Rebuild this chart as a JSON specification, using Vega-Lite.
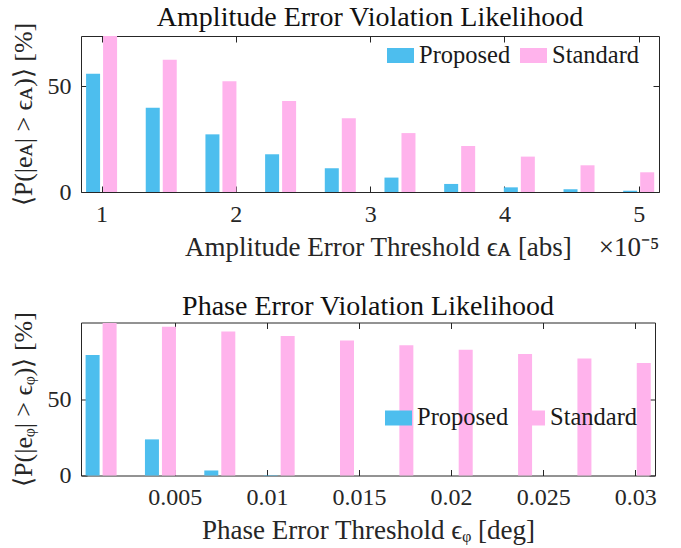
{
  "$schema": "https://vega.github.io/schema/vega-lite/v6.json",
  "background": "white",
  "padding": {"left": 9, "top": 3, "right": 5, "bottom": 2},
  "datasets": {
    "amp": [
      {"threshold": 1.0e-5, "series": "Proposed", "value": 55.8},
      {"threshold": 1.4444e-5, "series": "Proposed", "value": 39.8},
      {"threshold": 1.8889e-5, "series": "Proposed", "value": 27.2},
      {"threshold": 2.3333e-5, "series": "Proposed", "value": 17.8},
      {"threshold": 2.7778e-5, "series": "Proposed", "value": 11.2},
      {"threshold": 3.2222e-5, "series": "Proposed", "value": 6.8},
      {"threshold": 3.6667e-5, "series": "Proposed", "value": 3.8},
      {"threshold": 4.1111e-5, "series": "Proposed", "value": 2.2},
      {"threshold": 4.5556e-5, "series": "Proposed", "value": 1.3},
      {"threshold": 5.0e-5, "series": "Proposed", "value": 0.6},
      {"threshold": 1.0e-5, "series": "Standard", "value": 73.6},
      {"threshold": 1.4444e-5, "series": "Standard", "value": 62.4},
      {"threshold": 1.8889e-5, "series": "Standard", "value": 52.2},
      {"threshold": 2.3333e-5, "series": "Standard", "value": 42.9},
      {"threshold": 2.7778e-5, "series": "Standard", "value": 34.8},
      {"threshold": 3.2222e-5, "series": "Standard", "value": 27.8},
      {"threshold": 3.6667e-5, "series": "Standard", "value": 21.7},
      {"threshold": 4.1111e-5, "series": "Standard", "value": 16.7},
      {"threshold": 4.5556e-5, "series": "Standard", "value": 12.6},
      {"threshold": 5.0e-5, "series": "Standard", "value": 9.3}
    ],
    "phase": [
      {"threshold": 0.001, "series": "Proposed", "value": 79.1},
      {"threshold": 0.004222, "series": "Proposed", "value": 23.7},
      {"threshold": 0.007444, "series": "Proposed", "value": 3.3},
      {"threshold": 0.010667, "series": "Proposed", "value": 0.3},
      {"threshold": 0.013889, "series": "Proposed", "value": 0},
      {"threshold": 0.017111, "series": "Proposed", "value": 0},
      {"threshold": 0.020333, "series": "Proposed", "value": 0},
      {"threshold": 0.023556, "series": "Proposed", "value": 0},
      {"threshold": 0.026778, "series": "Proposed", "value": 0},
      {"threshold": 0.03, "series": "Proposed", "value": 0},
      {"threshold": 0.001, "series": "Standard", "value": 100},
      {"threshold": 0.004222, "series": "Standard", "value": 97.6},
      {"threshold": 0.007444, "series": "Standard", "value": 94.5},
      {"threshold": 0.010667, "series": "Standard", "value": 91.6},
      {"threshold": 0.013889, "series": "Standard", "value": 88.6},
      {"threshold": 0.017111, "series": "Standard", "value": 85.5},
      {"threshold": 0.020333, "series": "Standard", "value": 82.6},
      {"threshold": 0.023556, "series": "Standard", "value": 79.8},
      {"threshold": 0.026778, "series": "Standard", "value": 76.7},
      {"threshold": 0.03, "series": "Standard", "value": 73.9}
    ]
  },
  "config": {
    "font": "Liberation Serif",
    "view": {"stroke": "#262626", "strokeWidth": 1},
    "axis": {
      "domain": false, "grid": false, "tickSize": -6, "tickColor": "#262626", "tickWidth": 1,
      "minExtent": 0, "maxExtent": 200,
      "labelFont": "Liberation Serif", "labelFontSize": 24, "labelColor": "#262626", "labelPadding": 16,
      "titleFont": "Liberation Serif", "titleFontSize": 26, "titleFontWeight": "normal", "titleColor": "#262626", "titlePadding": 11
    },
    "axisX": {"titlePadding": 8, "titleFontSize": 27},
    "legend": {
      "labelFont": "Liberation Serif", "labelFontSize": 24.5, "labelColor": "#1a1a1a",
      "labelOffset": 5, "columnPadding": 9, "padding": 0, "symbolStrokeWidth": 0, "symbolOpacity": 1
    },
    "title": {"font": "Liberation Serif", "fontSize": 28, "fontWeight": "normal", "color": "#111111", "offset": -9.5, "baseline": "alphabetic"},
    "concat": {"spacing": 31.5}
  },
  "resolve": {"scale": {"color": "independent"}, "legend": {"color": "independent"}},
  "vconcat": [
    {
      "title": {"text": "Amplitude Error Violation Likelihood"},
      "width": 578,
      "height": 156,
      "data": {"name": "amp"},
      "layer": [
        {
          "transform": [{"filter": "datum.series === 'Proposed'"}],
          "mark": {"type": "bar", "width": 14, "xOffset": -8.5},
          "encoding": {
            "x": {"field": "threshold", "type": "quantitative",
              "scale": {"domain": [8.84e-6, 5.114e-5], "nice": false, "zero": false},
              "axis": {"orient": "bottom", "values": [1e-5, 2e-5, 3e-5, 4e-5, 5e-5], "labelExpr": "format(datum.value*1e5, '~g')",
                "title": "Amplitude Error Threshold ϵᴀ [abs]\u00a0\u00a0\u00a0\u00a0×10⁻⁵", "titleAnchor": "end"}},
            "y": {"field": "value", "type": "quantitative",
              "scale": {"domain": [0, 73.6], "nice": false},
              "axis": {"orient": "left", "values": [0, 50], "title": "⟨P(|eᴀ| > ϵᴀ)⟩ [%]"}},
            "color": {"field": "series", "type": "nominal",
              "scale": {"domain": ["Proposed", "Standard"], "range": ["#4DBEEE", "#FFB3EC"]},
              "legend": {"orient": "none", "legendX": 306, "legendY": 6, "direction": "horizontal", "title": null,
                "symbolType": "M-1,-0.5556L1,-0.5556L1,0.5556L-1,0.5556Z", "symbolSize": 729}}
          }
        },
        {
          "transform": [{"filter": "datum.series === 'Standard'"}],
          "mark": {"type": "bar", "width": 14, "xOffset": 8.5},
          "encoding": {
            "x": {"field": "threshold", "type": "quantitative",
              "axis": {"orient": "top", "values": [1e-5, 2e-5, 3e-5, 4e-5, 5e-5], "labels": false, "title": null}},
            "y": {"field": "value", "type": "quantitative",
              "axis": {"orient": "right", "values": [0, 50], "labels": false, "title": null}},
            "color": {"field": "series", "type": "nominal"}
          }
        }
      ],
      "resolve": {"axis": {"x": "independent", "y": "independent"}}
    },
    {
      "title": {"text": "Phase Error Violation Likelihood"},
      "width": 574,
      "height": 153,
      "data": {"name": "phase"},
      "layer": [
        {
          "transform": [{"filter": "datum.series === 'Proposed'"}],
          "mark": {"type": "bar", "width": 14, "xOffset": -8.5},
          "encoding": {
            "x": {"field": "threshold", "type": "quantitative",
              "scale": {"domain": [0.00018, 0.0308], "nice": false, "zero": false},
              "axis": {"orient": "bottom", "values": [0.005, 0.01, 0.015, 0.02, 0.025, 0.03], "format": "~g",
                "title": "Phase Error Threshold ϵᵩ [deg]"}},
            "y": {"field": "value", "type": "quantitative",
              "scale": {"domain": [0, 100.4], "nice": false},
              "axis": {"orient": "left", "values": [0, 50], "title": "⟨P(|eᵩ| > ϵᵩ)⟩ [%]"}},
            "color": {"field": "series", "type": "nominal",
              "scale": {"domain": ["Proposed", "Standard"], "range": ["#4DBEEE", "#FFB3EC"]},
              "legend": {"orient": "none", "legendX": 304, "legendY": 82, "direction": "horizontal", "title": null,
                "symbolType": "M-1,-0.5556L1,-0.5556L1,0.5556L-1,0.5556Z", "symbolSize": 729}}
          }
        },
        {
          "transform": [{"filter": "datum.series === 'Standard'"}],
          "mark": {"type": "bar", "width": 14, "xOffset": 8.5},
          "encoding": {
            "x": {"field": "threshold", "type": "quantitative",
              "axis": {"orient": "top", "values": [0.005, 0.01, 0.015, 0.02, 0.025, 0.03], "labels": false, "title": null}},
            "y": {"field": "value", "type": "quantitative",
              "axis": {"orient": "right", "values": [0, 50], "labels": false, "title": null}},
            "color": {"field": "series", "type": "nominal"}
          }
        }
      ],
      "resolve": {"axis": {"x": "independent", "y": "independent"}}
    }
  ]
}
